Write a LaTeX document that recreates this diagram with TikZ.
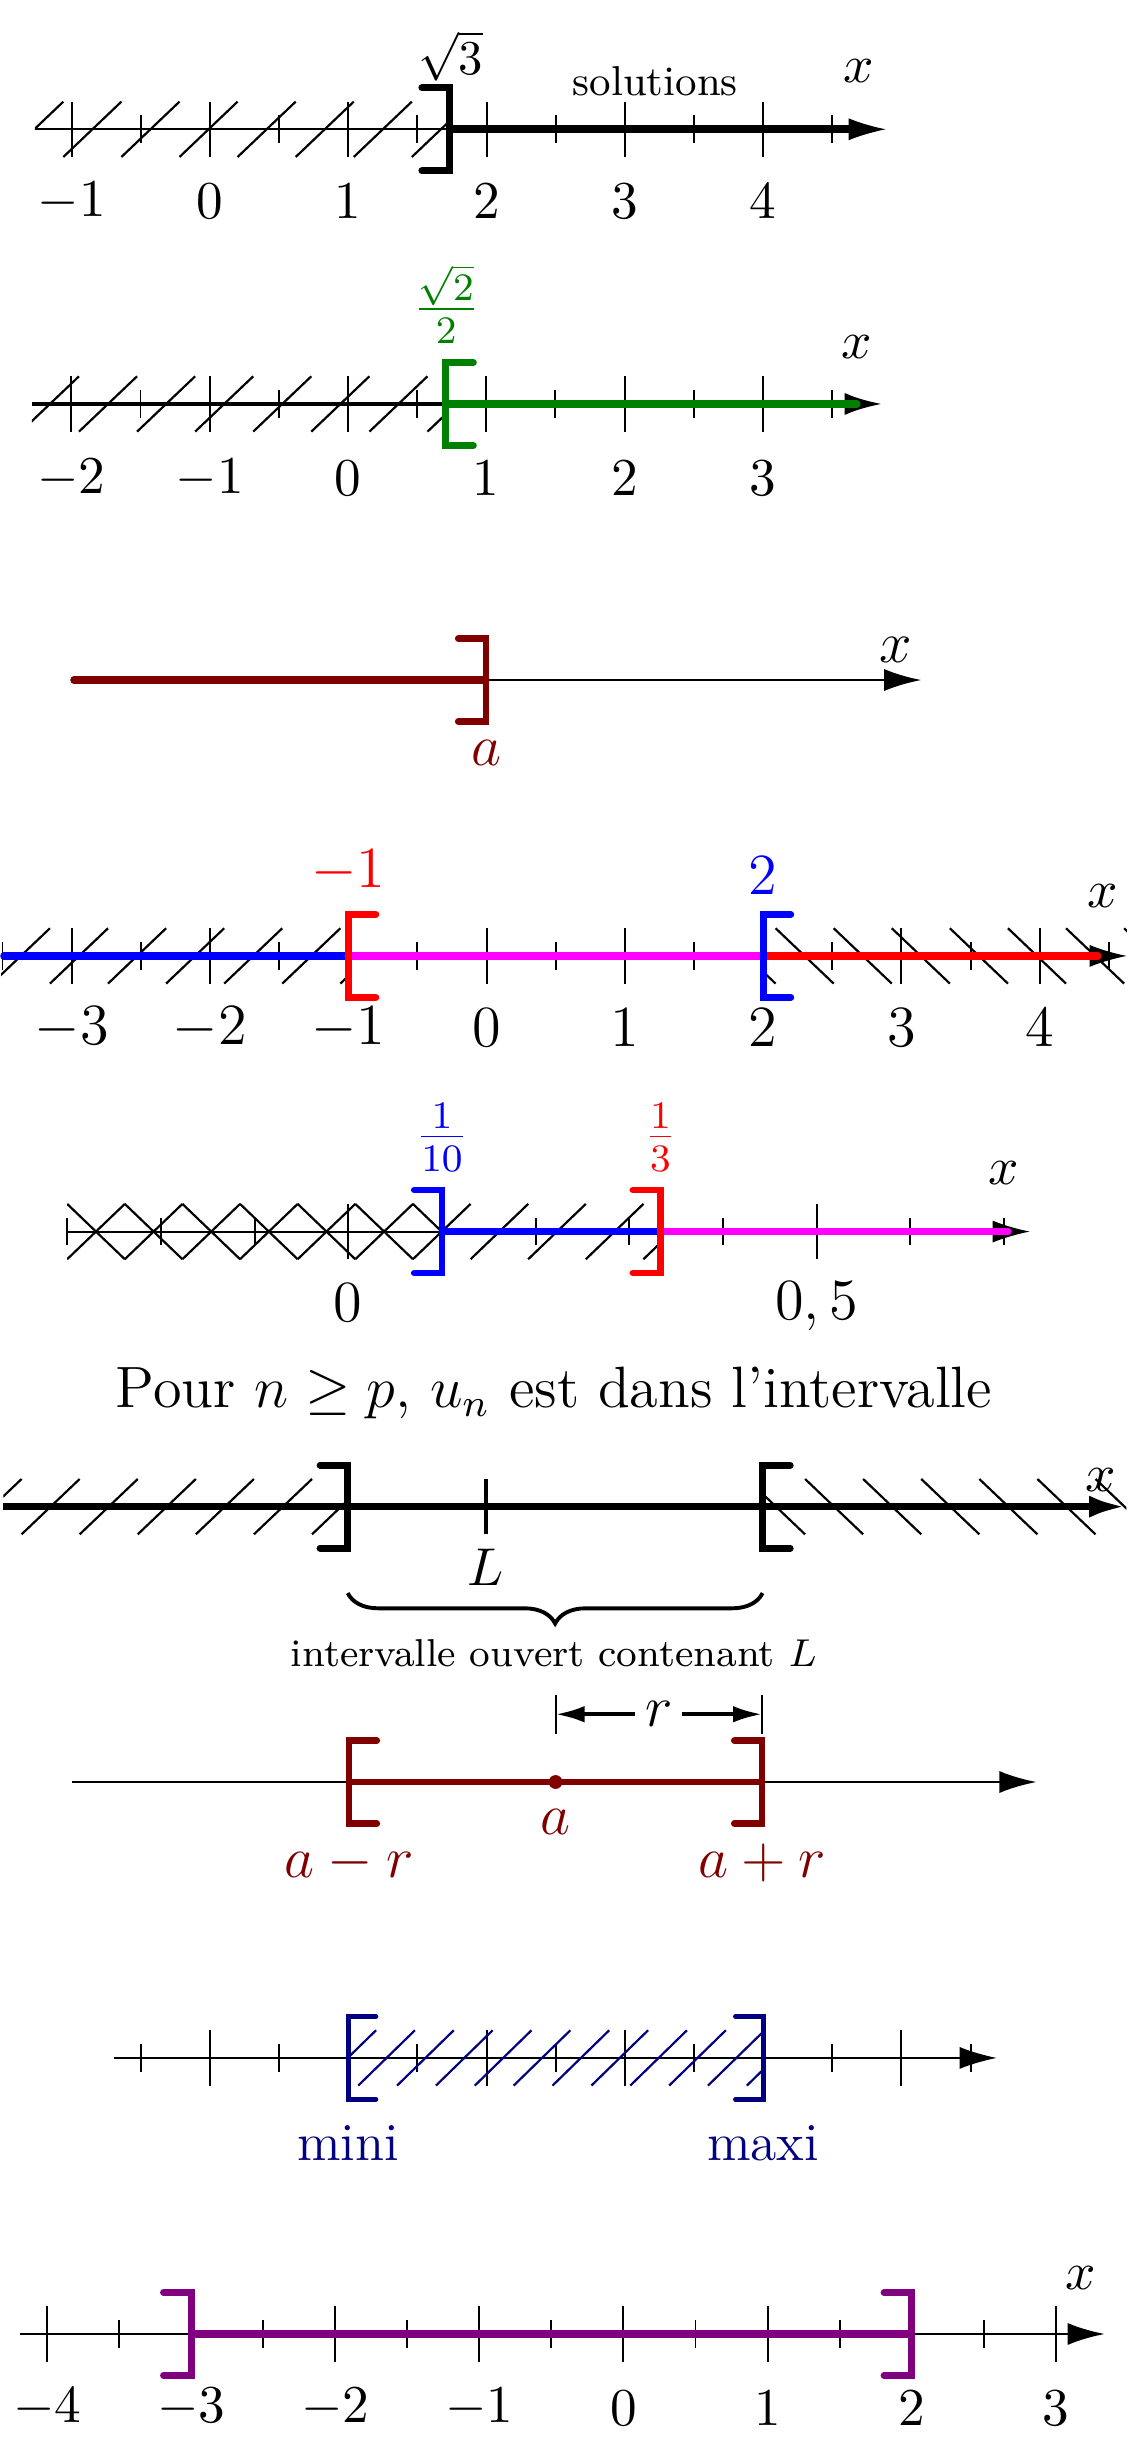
\documentclass[tikz,border=0pt]{standalone}
\usepackage{tikz}
\usetikzlibrary{arrows.meta, decorations.pathreplacing}
\definecolor{bordeaux}{RGB}{128,0,0}
\definecolor{vertfonce}{RGB}{0,128,0}
\definecolor{marine}{RGB}{0,0,128}
\definecolor{prune}{RGB}{128,0,128}
\definecolor{fuchsia}{RGB}{255,0,255}

\begin{document}
\begin{tikzpicture}[
    axe/.style={-{Latex[length=2.7mm, width=1.6mm]}},
    cote/.style={{Latex[length=2.1mm, width=1.2mm]}-{Latex[length=2.1mm, width=1.2mm]}, thick},
    grad/.style={line width=0.4pt},
    hachure/.style={line width=0.45pt},
    crochet/.style={line width=1.4pt, line cap=round},
    segment/.style={line width=1.5pt, line cap=round},
    etiquette/.style={font=\fontsize{11}{13}\selectfont},
    grande/.style={font=\large}
]

\useasboundingbox (0,0) rectangle (8.163,-17.621);

% Droite 1 : x >= racine de 3
\begin{scope}[shift={(1.518,-0.935)}]
  \begin{scope}
    \clip (-1.265,-0.3) rectangle (1.732,0.3);
    \foreach \h in {-1.48,-1.06,...,1.5}
      \draw[hachure] (\h,-0.2) -- ++(0.42,0.4);
  \end{scope}
  \foreach \k in {-1,...,4}
    \draw[grad] (\k,-0.2) -- (\k,0.2);
  \foreach \k in {-0.5,0.5,...,4.5}
    \draw[grad] (\k,-0.1) -- (\k,0.1);
  \draw[axe] (-1.265,0) -- (4.888,0);
  \draw[line width=1.6pt] (1.732,0) -- (4.7,0);
  \draw[crochet] (1.732,0) ++(-2mm,3mm) -- ++(2mm,0) -- ++(0,-6mm) -- ++(-2mm,0);
  \foreach \k in {-1,...,4}
    \node[etiquette] (ga\k) at (\k,-0.52) {$\k$};
  \node[inner sep=1pt] (racine3) at (1.74,0.53) {$\sqrt{3}$};
  \node[font=\fontsize{8.6}{10}\selectfont] (sol) at (3.22,0.35) {solutions};
  \node[etiquette] (xa) at (4.69,0.42) {$x$};
\end{scope}

% Droite 2 : x >= racine de 2 sur 2
\begin{scope}[shift={(2.516,-2.921)}]
  \begin{scope}
    \clip (-2.285,-0.3) rectangle (0.707,0.3);
    \foreach \h in {-2.365,-1.945,...,0.6}
      \draw[hachure] (\h,-0.2) -- ++(0.42,0.4);
  \end{scope}
  \foreach \k in {-2,...,3}
    \draw[grad] (\k,-0.2) -- (\k,0.2);
  \foreach \k in {-1.5,-0.5,...,3.5}
    \draw[grad] (\k,-0.1) -- (\k,0.1);
  \draw[axe, thick] (-2.285,0) -- (3.861,0);
  \draw[segment, vertfonce] (0.707,0) -- (3.68,0);
  \draw[crochet, vertfonce] (0.707,0) ++(2mm,3mm) -- ++(-2mm,0) -- ++(0,-6mm) -- ++(2mm,0);
  \foreach \k in {-2,...,3}
    \node[etiquette] (gb\k) at (\k,-0.54) {$\k$};
  \node[grande, vertfonce] (racine2) at (0.711,0.72) {$\frac{\sqrt{2}}{2}$};
  \node[etiquette] (xb) at (3.68,0.414) {$x$};
\end{scope}

% Droite 3 : x <= a
\begin{scope}[shift={(3.514,-4.917)}]
  \draw[axe, semithick] (-2.98,0) -- (3.149,0);
  \draw[segment, bordeaux] (-2.98,0) -- (0,0);
  \draw[crochet, bordeaux] (0,0) ++(-2mm,3mm) -- ++(2mm,0) -- ++(0,-6mm) -- ++(-2mm,0);
  \node[grande, bordeaux] (pa) at (0,-0.528) {$a$};
  \node[grande] (xc) at (2.965,0.217) {$x$};
\end{scope}

% Droite 4 : intersection de deux intervalles
\begin{scope}[shift={(3.518,-6.912)}]
  \foreach \k in {-3,...,4}
    \draw[grad] (\k,-0.2) -- (\k,0.2);
  \foreach \k in {-3.5,-2.5,...,4.5}
    \draw[grad] (\k,-0.1) -- (\k,0.1);
  \begin{scope}
    \clip (-3.51,-0.3) rectangle (-1,0.3);
    \foreach \h in {-3.577,-3.157,...,-1.0}
      \draw[hachure] (\h,-0.2) -- ++(0.42,0.4);
  \end{scope}
  \begin{scope}
    \clip (2,-0.3) rectangle (4.63,0.3);
    \foreach \h in {1.67,2.09,...,4.7}
      \draw[hachure] (\h,0.2) -- ++(0.42,-0.4);
  \end{scope}
  \draw[axe] (-3.51,0) -- (4.63,0);
  \draw[segment, blue] (-3.49,0) -- (-1,0);
  \draw[segment, fuchsia] (-1,0) -- (2,0);
  \draw[segment, red] (2,0) -- (4.42,0);
  \draw[crochet, red] (-1,0) ++(2mm,3mm) -- ++(-2mm,0) -- ++(0,-6mm) -- ++(2mm,0);
  \draw[crochet, blue] (2,0) ++(2mm,3mm) -- ++(-2mm,0) -- ++(0,-6mm) -- ++(2mm,0);
  \foreach \k in {-3,...,4}
    \node[grande] (gd\k) at (\k,-0.52) {$\k$};
  \node[grande, red] (bornerouge) at (-1,0.61) {$-1$};
  \node[grande, blue] (borneble) at (2,0.58) {$2$};
  \node[etiquette] (xd) at (4.457,0.43) {$x$};
\end{scope}

% Droite 5 : entre 1/10 et 1/3
\begin{scope}[shift={(2.518,-8.905)}, x=0.6775cm]
  \begin{scope}
    \clip (-3,-0.3) rectangle (1,0.3);
    \foreach \h in {-3,-2.385,...,1.0}
      \draw[hachure] (\h,0.2) -- ++(4.17mm,-4mm);
  \end{scope}
  \begin{scope}
    \clip (-3,-0.3) rectangle (3.333,0.3);
    \foreach \h in {-3,-2.385,...,3.4}
      \draw[hachure] (\h,-0.2) -- ++(4.17mm,4mm);
  \end{scope}
  \foreach \k in {-3,...,7}
    \draw[grad] (\k,-0.1) -- (\k,0.1);
  \foreach \k in {0,5}
    \draw[grad] (\k,-0.2) -- (\k,0.2);
  \draw[axe] (-3,0) -- (7.275,0);
  \draw[segment, blue] (1,0) -- (3.333,0);
  \draw[segment, fuchsia] (3.333,0) -- (7.04,0);
  \draw[crochet, blue] (1,0) ++(-2mm,3mm) -- ++(2mm,0) -- ++(0,-6mm) -- ++(-2mm,0);
  \draw[crochet, red] (3.333,0) ++(-2mm,3mm) -- ++(2mm,0) -- ++(0,-6mm) -- ++(-2mm,0);
  \node[grande] (ge0) at (0,-0.517) {$0$};
  \node[grande] (ge5) at (5,-0.54) {$0,5$};
  \node[grande, blue] (undixieme) at (1,0.683) {$\frac{1}{10}$};
  \node[grande, red] (untiers) at (3.333,0.683) {$\frac{1}{3}$};
  \node[etiquette] (xe) at (7.0,0.42) {$x$};
\end{scope}

% Texte
\node[grande] (texte) at (4.006,-10.07) {Pour $n \geq p$, $u_n$ est dans l'intervalle};

% Droite 6 : intervalle ouvert contenant L
\begin{scope}[shift={(3.514,-10.894)}]
  \begin{scope}
    \clip (-3.49,-0.3) rectangle (-1,0.3);
    \foreach \h in {-3.778,-3.358,...,-1.0}
      \draw[hachure] (\h,-0.2) -- ++(0.42,0.4);
  \end{scope}
  \begin{scope}
    \clip (2,-0.3) rectangle (4.63,0.3);
    \foreach \h in {1.887,2.307,...,4.7}
      \draw[hachure] (\h,0.2) -- ++(0.42,-0.4);
  \end{scope}
  \draw[axe, line width=1.5pt] (-3.49,0) -- (4.63,0);
  \draw[thick] (0,-0.2) -- (0,0.2);
  \draw[crochet] (-1,0) ++(-2mm,3mm) -- ++(2mm,0) -- ++(0,-6mm) -- ++(-2mm,0);
  \draw[crochet] (2,0) ++(2mm,3mm) -- ++(-2mm,0) -- ++(0,-6mm) -- ++(2mm,0);
  \node[etiquette] (pL) at (0,-0.44) {$L$};
  \node[etiquette] (xf) at (4.447,0.19) {$x$};
  \coordinate (accG) at (-1,-0.625);
  \coordinate (accD) at (2,-0.625);
  \draw[thick, decorate, decoration={brace, mirror, amplitude=2.2mm}] (accG) -- (accD);
  \node[font=\footnotesize] (ouvert) at (0.49,-1.06) {intervalle ouvert contenant $L$};
\end{scope}

% Droite 7 : intervalle centre en a de rayon r
\begin{scope}[shift={(4.017,-12.885)}]
  \draw[axe, semithick] (-3.496,0) -- (3.479,0);
  \draw[line width=1.2pt, bordeaux] (-1.493,0) -- (1.493,0);
  \draw[crochet, bordeaux] (-1.493,0) ++(2mm,3mm) -- ++(-2mm,0) -- ++(0,-6mm) -- ++(2mm,0);
  \draw[crochet, bordeaux] (1.493,0) ++(-2mm,3mm) -- ++(2mm,0) -- ++(0,-6mm) -- ++(-2mm,0);
  \node[circle, fill=bordeaux, inner sep=0pt, minimum size=1mm] (centre) at (0,0) {};
  \node[grande, bordeaux] (pa2) at (0,-0.29) {$a$};
  \node[grande, bordeaux] (amoinsr) at (-1.493,-0.585) {$a-r$};
  \node[grande, bordeaux] (aplusr) at (1.493,-0.585) {$a+r$};
  \coordinate (rG) at (0,0.49);
  \coordinate (rD) at (1.493,0.49);
  \draw (0,0.35) -- (0,0.63);
  \draw (1.493,0.35) -- (1.493,0.63);
  \draw[cote] (rG) -- node[grande, fill=white, inner sep=2pt] (rayon) {$r$} (rD);
\end{scope}

% Droite 8 : mini et maxi
\begin{scope}[shift={(1.518,-14.88)}]
  \foreach \k in {0,...,5}
    \draw[grad] (\k,-0.2) -- (\k,0.2);
  \foreach \k in {-0.5,0.5,...,5.5}
    \draw[grad] (\k,-0.1) -- (\k,0.1);
  \draw[axe] (-0.695,0) -- (5.69,0);
  \begin{scope}
    \clip (1,-0.3) rectangle (4,0.3);
    \foreach \h in {0.791,1.072,...,4.0}
      \draw[hachure, marine] (\h,-0.2) -- ++(0.41,0.4);
  \end{scope}
  \draw[crochet, line width=1pt, marine] (1,0) ++(2mm,3mm) -- ++(-2mm,0) -- ++(0,-6mm) -- ++(2mm,0);
  \draw[crochet, line width=1pt, marine] (4,0) ++(-2mm,3mm) -- ++(2mm,0) -- ++(0,-6mm) -- ++(-2mm,0);
  \node[etiquette, marine] (mini) at (1,-0.615) {mini};
  \node[etiquette, marine] (maxi) at (4,-0.615) {maxi};
\end{scope}

% Droite 9 : ]-3 ; 2]
\begin{scope}[shift={(4.508,-16.876)}, x=1.042cm]
  \foreach \k in {-4,...,3}
    \draw[grad] (\k,-0.2) -- (\k,0.2);
  \foreach \k in {-3.5,-2.5,...,2.5}
    \draw[grad] (\k,-0.1) -- (\k,0.1);
  \draw[axe, semithick] (-4.187,0) -- (3.341,0);
  \draw[segment, prune, line cap=butt] (-3,0) -- (2,0);
  \draw[crochet, prune] (-3,0) ++(-2mm,3mm) -- ++(2mm,0) -- ++(0,-6mm) -- ++(-2mm,0);
  \draw[crochet, prune] (2,0) ++(-2mm,3mm) -- ++(2mm,0) -- ++(0,-6mm) -- ++(-2mm,0);
  \foreach \k in {-4,...,3}
    \node[etiquette] (gi\k) at (\k,-0.535) {$\k$};
  \node[etiquette] (xi) at (3.17,0.405) {$x$};
\end{scope}

\end{tikzpicture}
\end{document}
